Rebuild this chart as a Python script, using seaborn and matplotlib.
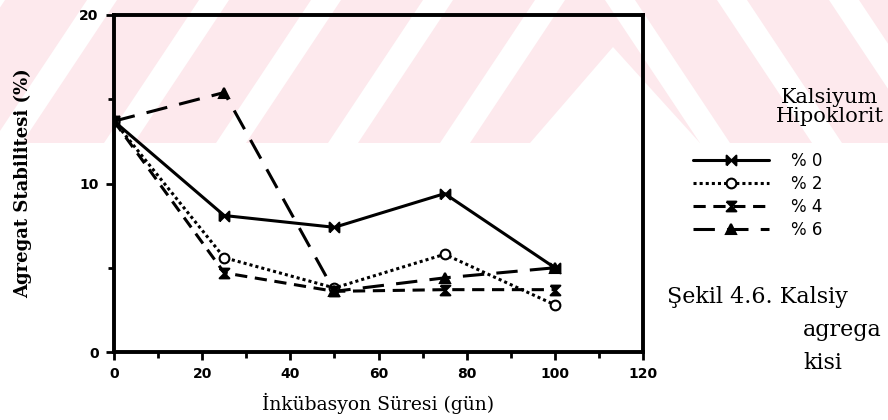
import matplotlib
matplotlib.use('Agg')
import matplotlib.pyplot as plt
import seaborn as sns
from matplotlib.patches import Rectangle, Polygon
from matplotlib.ticker import MultipleLocator

# inkubasyon suresi (gun)
gun = [0, 25, 50, 75, 100]
# agregat stabilitesi (%), kalsiyum hipoklorit dozlarina gore
doz_0 = [13.7, 8.1, 7.4, 9.4, 5.0]
doz_2 = [13.7, 5.6, 3.8, 5.8, 2.8]
doz_4 = [13.7, 4.7, 3.6, 3.7, 3.7]
doz_6 = [13.7, 15.4, 3.6, 4.4, 5.0]
etiketler = ["% 0", "% 2", "% 4", "% 6"]

W, H = 888, 420
sns.set_style("ticks")
plt.rcParams['font.family'] = ['DejaVu Serif']
plt.rcParams['text.color'] = 'black'
plt.rcParams['axes.labelcolor'] = 'black'
plt.rcParams['xtick.color'] = 'black'
plt.rcParams['ytick.color'] = 'black'

fig = plt.figure(figsize=(W / 100, H / 100), dpi=100)


def px(x, y):
    # piksel -> figur koordinati
    return (x / W, 1 - y / H)


# filigran: pembe bant + beyaz seritler
band = 143
fig.patches.append(Rectangle(px(0, band), 1, band / H, transform=fig.transFigure,
                             facecolor='#fde9ed', edgecolor='none', zorder=-10))
for x0 in range(-120, 540, 112):
    pts = [px(x0, band), px(x0 + 30, band), px(x0 + 125, 0), px(x0 + 95, 0)]
    fig.patches.append(Polygon(pts, closed=True, transform=fig.transFigure,
                               facecolor='white', edgecolor='none', zorder=-9))
for x0 in range(700, 1000, 112):
    pts = [px(x0, band), px(x0 + 30, band), px(x0 - 65, 0), px(x0 - 95, 0)]
    fig.patches.append(Polygon(pts, closed=True, transform=fig.transFigure,
                               facecolor='white', edgecolor='none', zorder=-9))
fig.patches.append(Polygon([px(613, 47), px(530, band), px(700, band)], closed=True,
                           transform=fig.transFigure, facecolor='white',
                           edgecolor='none', zorder=-9))

ax = fig.add_axes([114 / W, 1 - 352 / H, 529 / W, 337 / H])
ax.set_facecolor('none')

papyon = [(-1, -1), (1, 1), (1, -1), (-1, 1), (-1, -1)]
kum_saati = [(-1, 1), (1, 1), (-1, -1), (1, -1), (-1, 1)]
stiller = [
    (doz_0, '-', papyon, 'black'),
    (doz_2, (0, (1, 1)), 'o', 'white'),
    (doz_4, (0, (4, 2.5)), kum_saati, 'black'),
    (doz_6, (0, (7, 4)), '^', 'black'),
]
for (vals, ls, m, fc), lab in zip(stiller, etiketler):
    sns.lineplot(x=gun, y=vals, ax=ax, color='black', linestyle=ls, linewidth=2.2,
                 marker=m, markersize=7, markerfacecolor=fc, markeredgecolor='black',
                 markeredgewidth=1.5, label=lab)

ax.set_xlim(0, 120)
ax.set_ylim(0, 20)
ax.xaxis.set_major_locator(MultipleLocator(20))
ax.xaxis.set_minor_locator(MultipleLocator(10))
ax.yaxis.set_major_locator(MultipleLocator(10))
ax.yaxis.set_minor_locator(MultipleLocator(5))
ax.tick_params(which='both', direction='out', width=2, color='black')
ax.tick_params(which='major', length=6, pad=5)
ax.tick_params(which='minor', length=4)
for t in ax.get_xticklabels() + ax.get_yticklabels():
    t.set_fontfamily('DejaVu Sans')
    t.set_fontweight('bold')
    t.set_fontsize(10)
for s in ax.spines.values():
    s.set_visible(True)
    s.set_linewidth(2.8)
    s.set_color('black')

ax.set_xlabel("İnkübasyon Süresi (gün)", fontsize=13.5)
ax.xaxis.set_label_coords(0.5, -0.12)
ax.set_ylabel("Agregat Stabilitesi (%)", fontsize=13, fontweight='bold')
ax.yaxis.set_label_coords(-0.155, 0.5)

handles, labels = ax.get_legend_handles_labels()
ax.get_legend().remove()
fig.legend(handles, labels, loc='upper left', bbox_to_anchor=px(686, 145),
           frameon=False, handlelength=4.6, handletextpad=1.3, labelspacing=0.3,
           borderaxespad=0, numpoints=1, prop={'family': 'DejaVu Sans', 'size': 12})
fig.text(*px(830, 107), "Kalsiyum\nHipoklorit", ha='center', va='center',
         fontsize=15, linespacing=1.0)

fig.text(*px(667, 297), "Şekil 4.6. Kalsiy", va='center', fontsize=16)
fig.text(*px(803, 330), "agrega", va='center', fontsize=16)
fig.text(*px(803, 363), "kisi", va='center', fontsize=16)

fig.savefig("out.png", dpi=100)
